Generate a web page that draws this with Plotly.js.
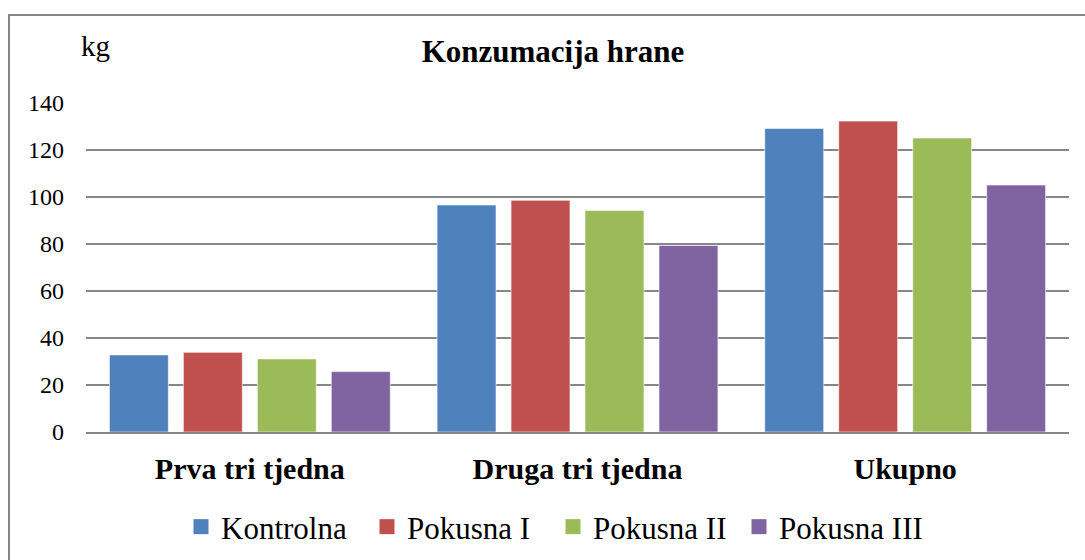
<!DOCTYPE html>
<html>
<head>
<meta charset="utf-8">
<script src="https://cdn.plot.ly/plotly-3.0.1.min.js"></script>
<style>
html,body{margin:0;padding:0;background:#fff;}
#chart{width:1085px;height:560px;}
</style>
</head>
<body>
<div id="chart"></div>
<script>
const categories = ["Prva tri tjedna", "Druga tri tjedna", "Ukupno"];
const seriesNames = ["Kontrolna", "Pokusna I", "Pokusna II", "Pokusna III"];
const kontrolna = [32.8, 96.6, 129.2];
const pokusna1 = [33.9, 98.6, 132.3];
const pokusna2 = [31.1, 94.3, 125.1];
const pokusna3 = [25.7, 79.4, 105.1];
const yTicks = [0, 20, 40, 60, 80, 100, 120, 140];
const colors = ["#4F81BD", "#C0504D", "#9BBB59", "#8064A2"];

const allSeries = [kontrolna, pokusna1, pokusna2, pokusna3];
const barTraces = allSeries.map((vals, i) => ({
  type: "bar",
  name: seriesNames[i],
  x: categories,
  y: vals,
  showlegend: false,
  marker: {color: colors[i], line: {color: "rgba(255,255,255,0.6)", width: 1}},
  hoverinfo: "x+y+name"
}));
// legend-only entries with larger square swatches
const legendTraces = seriesNames.map((name, i) => ({
  type: "scatter",
  mode: "markers",
  name: name,
  x: [categories[0]],
  y: [null],
  marker: {symbol: "square", size: 15, color: colors[i]},
  hoverinfo: "skip",
  showlegend: true
}));

const serif = "'Liberation Serif', 'Times New Roman', serif";
const W = 983, H = 329, L = 86, T = 103;
function px2x(p){ return (p - L) / W; }
function py2y(p){ return (T + H - p) / H; }

const layout = {
  width: 1085,
  height: 560,
  margin: {l: 86, r: 16, t: 103, b: 128, autoexpand: false},
  paper_bgcolor: "#fff",
  plot_bgcolor: "#fff",
  barmode: "group",
  bargap: 0.097,
  bargroupgap: 0.203,
  font: {family: serif},
  title: {
    text: "<b>Konzumacija hrane</b>",
    font: {family: serif, size: 31, color: "#000"},
    x: 553 / 1085, xref: "container", xanchor: "center",
    y: 1 - 51 / 560, yref: "container", yanchor: "middle"
  },
  xaxis: {
    type: "category",
    automargin: false,
    showgrid: false,
    showline: true,
    linecolor: "#868686",
    linewidth: 2,
    ticks: "",
    tickfont: {family: serif, size: 30, color: "#000", weight: "bold"},
    ticklabelstandoff: 9,
    fixedrange: true
  },
  yaxis: {
    range: [0, 140],
    automargin: false,
    tickvals: yTicks,
    ticktext: yTicks.map(String),
    showgrid: true,
    gridcolor: "#868686",
    gridwidth: 1.5,
    zeroline: false,
    showline: false,
    ticks: "",
    tickfont: {family: serif, size: 24, color: "#000"},
    ticklabelstandoff: 21,
    fixedrange: true
  },
  legend: {
    orientation: "h",
    x: px2x(181), xanchor: "left",
    y: py2y(527), yanchor: "middle",
    font: {family: serif, size: 31, color: "#000"},
    itemwidth: 30,
    entrywidth: 141,
    entrywidthmode: "pixels",
    traceorder: "normal",
    tracegroupgap: 0
  },
  annotations: [{
    text: "kg",
    xref: "paper", yref: "paper",
    x: px2x(95), y: py2y(46),
    xanchor: "center", yanchor: "middle",
    showarrow: false,
    font: {family: serif, size: 29, color: "#000"}
  }],
  shapes: [{
    type: "rect",
    xref: "paper", yref: "paper",
    x0: px2x(9), x1: px2x(1100),
    y0: py2y(575), y1: py2y(15),
    line: {color: "#868686", width: 2},
    fillcolor: "rgba(0,0,0,0)",
    layer: "below"
  }],
  showlegend: true
};

Plotly.newPlot("chart", barTraces.concat(legendTraces), layout, {displayModeBar: false});
</script>
</body>
</html>
